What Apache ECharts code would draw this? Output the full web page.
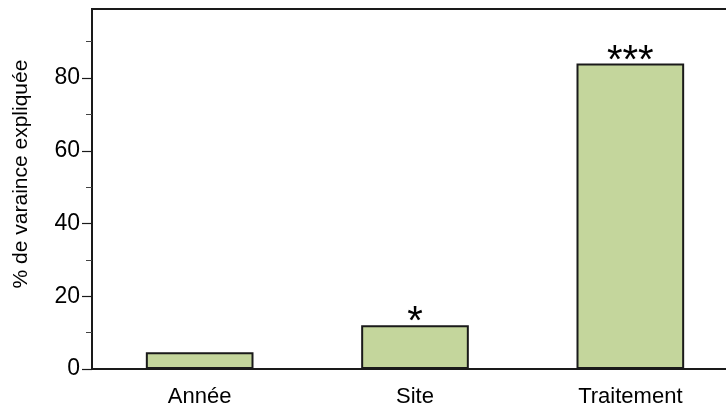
<!DOCTYPE html>
<html>
<head>
<meta charset="utf-8">
<script src="https://cdn.jsdelivr.net/npm/echarts@6/dist/echarts.min.js"></script>
<style>
    html, body { margin: 0; padding: 0; background: #fff; }
    #chart { width: 726px; height: 408px; }
</style>
</head>
<body>
<div id="chart"></div>
<script type="text/javascript">
    var categories = ['Année', 'Site', 'Traitement'];
    var values = [4.6, 12, 84];
    var signif = ['', '*', '***'];
    var majorTicks = [0, 20, 40, 60, 80];
    var minorTicks = [10, 30, 50, 70, 90];

    var font = '"Liberation Sans", Arial, sans-serif';
    var lineColor = '#1a1a1a';

    var option = {
        animation: false,
        grid: {
            left: 92,
            top: 9,
            bottom: 39,
            width: 646,
            outerBoundsMode: 'none',
            containLabel: false,
            show: true,
            borderColor: lineColor,
            borderWidth: 2
        },
        xAxis: {
            type: 'category',
            data: categories,
            axisLine: { lineStyle: { color: lineColor, width: 2 } },
            axisTick: { length: 11, lineStyle: { color: lineColor, width: 1.5 } },
            axisLabel: { color: '#000', fontSize: 22, fontFamily: font, margin: 17 }
        },
        yAxis: [
            {
                type: 'value',
                min: 0,
                max: 99,
                name: '% de varaince expliquée',
                nameLocation: 'middle',
                nameGap: 60,
                nameTextStyle: { color: '#000', fontSize: 21, fontFamily: font, padding: [0, 0, 0, 30] },
                axisLine: { show: true, lineStyle: { color: lineColor, width: 2 } },
                axisTick: { show: true, length: 10, customValues: majorTicks, lineStyle: { color: lineColor, width: 1.2 } },
                axisLabel: { color: '#000', fontSize: 23, fontFamily: font, margin: 12, customValues: majorTicks },
                splitLine: { show: false }
            },
            {
                type: 'value',
                min: 0,
                max: 99,
                position: 'left',
                axisLine: { show: false },
                axisTick: { show: true, length: 6, customValues: minorTicks, lineStyle: { color: '#444', width: 1 } },
                axisLabel: { show: false },
                splitLine: { show: false }
            }
        ],
        series: [
            {
                type: 'bar',
                data: values,
                barWidth: '50%',
                itemStyle: { color: '#c4d69c', borderColor: lineColor, borderWidth: 2 },
                label: {
                    show: true,
                    position: 'top',
                    distance: -18,
                    color: '#000',
                    fontSize: 40,
                    fontFamily: font,
                    formatter: function (p) { return signif[p.dataIndex]; }
                }
            }
        ]
    };
    var chart = echarts.init(document.getElementById('chart'));
    chart.setOption(option);
</script>
</body>
</html>
